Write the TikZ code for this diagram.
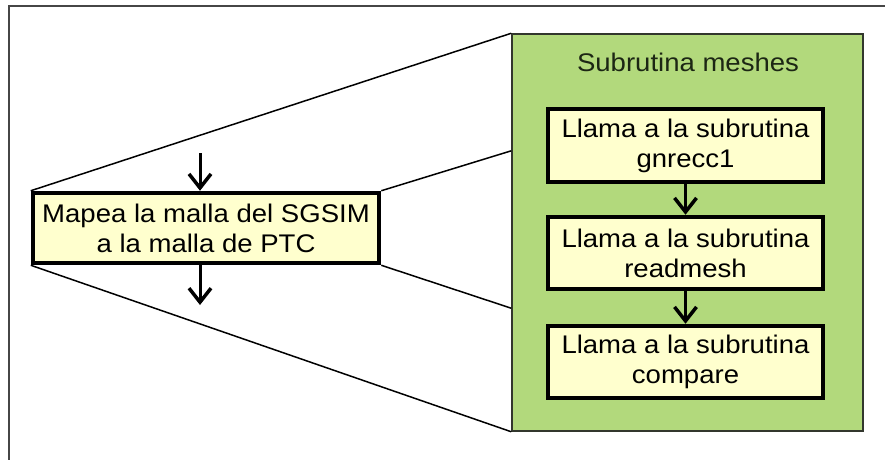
\documentclass[tikz,border=0pt]{standalone}
\usepackage{fontspec}
\setmainfont{Liberation Sans}[FakeStretch=1.08]
\usetikzlibrary{arrows.meta,calc}
\definecolor{meshgreen}{RGB}{178,217,124}
\definecolor{paleyellow}{RGB}{255,255,206}
\definecolor{framegray}{RGB}{70,70,70}
\definecolor{edgegray}{RGB}{50,55,45}
\definecolor{titlegreen}{RGB}{28,38,20}

\begin{document}
\begin{tikzpicture}[x=1pt,y=-1pt,
  txt/.style={font=\fontsize{25.5}{30}\selectfont},
  stepbox/.style={txt, draw=black, line width=4.5pt, fill=paleyellow,
    align=center, inner sep=0pt, minimum width=275pt, minimum height=72pt},
  flow/.style={line width=3pt,
    -{Straight Barb[length=14pt,width=22pt,line width=3.5pt]}},
  zoomline/.style={line width=1.5pt, black}
]
\useasboundingbox (0,0) rectangle (885,459);
\clip (0,0) rectangle (885,459);

% outer frame
\draw[framegray, line width=2pt] (9,6) rectangle (900,480);

% step in the main flow
\node[stepbox, minimum width=346pt, minimum height=70pt] (map) at (206,228)
  {Mapea la malla del SGSIM\\a la malla de PTC};
\coordinate (inarrow) at (200,153);
\coordinate (outarrow) at (200,305);
\draw[flow] (inarrow) -- (inarrow |- map.north);
\draw[flow] (outarrow |- map.south) -- (outarrow);

% expanded subroutine
\node[draw=edgegray, fill=meshgreen, line width=1.5pt, inner sep=0pt,
  minimum width=351pt, minimum height=397pt] (meshes) at (687.5,232.5) {};
\node[txt, text=titlegreen, anchor=base] (title) at (688,71) {Subrutina meshes};

\node[stepbox, minimum height=73pt] (g1) at (685.5,145.5) {Llama a la subrutina\\gnrecc1};
\node[stepbox] (g2) at (685.5,253) {Llama a la subrutina\\readmesh};
\node[stepbox] (g3) at (685.5,362) {Llama a la subrutina\\compare};
\draw[flow] (g1) -- (g2);
\draw[flow] (g2) -- (g3);

% zoom-out lines
\coordinate (zoomA) at ($(meshes.north west)!0.295!(meshes.south west)$);
\coordinate (zoomB) at ($(meshes.north west)!0.69!(meshes.south west)$);
\draw[zoomline] (map.north west) -- (meshes.north west);
\draw[zoomline] (map.north east) -- (zoomA);
\draw[zoomline] (map.south east) -- (zoomB);
\draw[zoomline] (map.south west) -- (meshes.south west);
\end{tikzpicture}
\end{document}
